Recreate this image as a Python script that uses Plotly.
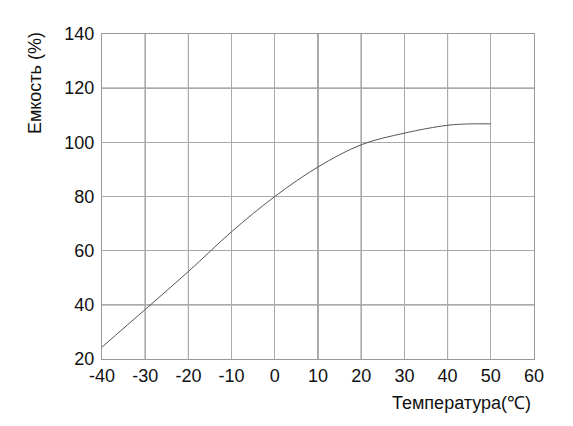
import plotly.graph_objects as go

temperature = [-40, -30, -20, -10, 0, 10, 20, 30, 40, 45, 50]
capacity = [24.4, 38.3, 52.3, 67.0, 80.0, 90.9, 99.1, 103.4, 106.3, 106.8, 106.8]

x_ticks = [-40, -30, -20, -10, 0, 10, 20, 30, 40, 50, 60]
y_ticks = [20, 40, 60, 80, 100, 120, 140]
dark_x = [-30, -20, 10, 20, 40]
dark_y = [40, 120]

fig = go.Figure()
fig.add_trace(go.Scatter(
    x=temperature, y=capacity, mode="lines",
    line=dict(color="#555555", width=1, shape="spline", smoothing=1.0),
    showlegend=False, hoverinfo="skip"))

for v in dark_x:
    fig.add_shape(type="line", xref="x", yref="y", x0=v, x1=v, y0=20, y1=140,
                  line=dict(color="#555555", width=1), layer="below")
for v in dark_y:
    fig.add_shape(type="line", xref="x", yref="y", x0=-40, x1=60, y0=v, y1=v,
                  line=dict(color="#555555", width=1), layer="below")

font = "Liberation Sans, Arial, sans-serif"
fig.update_layout(
    width=565, height=418,
    margin=dict(l=94, r=39, t=26, b=67),
    paper_bgcolor="white", plot_bgcolor="white",
    font=dict(family=font, color="#111111"),
    xaxis=dict(range=[-40, 60], tickvals=x_ticks, ticktext=[str(v) for v in x_ticks],
               showgrid=True, gridcolor="#aaaaaa", gridwidth=1, zeroline=False,
               showline=True, linecolor="#999999", linewidth=1, mirror=True,
               ticks="", tickfont=dict(size=18, family=font), ticklabelstandoff=0),
    yaxis=dict(range=[20, 140], tickvals=y_ticks,
               showgrid=True, gridcolor="#aaaaaa", gridwidth=1, zeroline=False,
               showline=True, linecolor="#999999", linewidth=1, mirror=True,
               ticks="", tickfont=dict(size=18, family=font), ticklabelstandoff=3),
    annotations=[
        dict(text="Емкость (%)", xref="paper", yref="paper", x=-0.155, y=0.849,
             xanchor="center", yanchor="middle", textangle=-90, showarrow=False,
             font=dict(size=18, family=font, color="#111111")),
        dict(text="Температура(℃)", xref="paper", yref="paper", x=0.998, y=-0.135,
             xanchor="right", yanchor="middle", showarrow=False,
             font=dict(size=18, family=font, color="#111111")),
    ],
)

fig.write_html("out.html")
